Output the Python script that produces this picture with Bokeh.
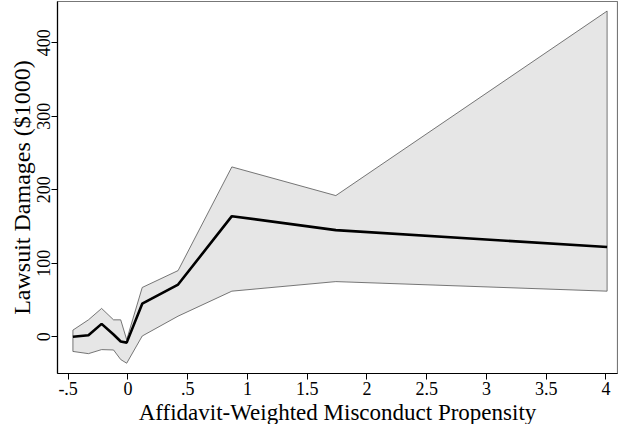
from bokeh.plotting import figure
from bokeh.models import Range1d, FixedTicker, Title
from bokeh.embed import file_html
from bokeh.resources import INLINE

# Data
propensity = [-0.46, -0.33, -0.22, -0.12, -0.06, -0.01, 0.12, 0.42, 0.87, 1.74, 4.01]
damages = [0, 2, 17.5, 3, -6.5, -8, 45, 71, 164, 145, 122]
upper_ci = [9, 23, 38.5, 23, 23, -4, 67, 90, 231, 192, 443]
lower_ci = [-20, -23, -17.5, -18, -31, -36, 1, 28, 62, 75, 62]

x_ticks = [-0.5, 0, 0.5, 1, 1.5, 2, 2.5, 3, 3.5, 4]
x_tick_labels = ["-.5", "0", ".5", "1", "1.5", "2", "2.5", "3", "3.5", "4"]
y_ticks = [0, 100, 200, 300, 400]
x_title = "Affidavit-Weighted Misconduct Propensity"
y_title = "Lawsuit Damages ($1000)"

FONT = "Liberation Serif"

p = figure(width=618, height=424, output_backend="svg", toolbar_location=None,
           x_range=Range1d(-0.589, 4.097), y_range=Range1d(-50, 456),
           min_border_left=57, min_border_right=1, min_border_top=1, min_border_bottom=0)

band_x = propensity + propensity[::-1]
band_y = upper_ci + lower_ci[::-1]
p.patch(band_x, band_y, fill_color="#e6e6e6", line_color="#555555", line_width=0.8)
p.line(propensity, damages, line_color="black", line_width=2.6)

p.xgrid.visible = False
p.ygrid.visible = False
p.outline_line_color = "#777777"
p.outline_line_width = 1.2
p.background_fill_color = "white"
p.border_fill_color = "white"

xa = p.xaxis[0]
xa.ticker = FixedTicker(ticks=x_ticks)
xa.major_label_overrides = {t: l for t, l in zip(x_ticks, x_tick_labels)}

ya = p.yaxis[0]
ya.ticker = FixedTicker(ticks=y_ticks)
ya.axis_label = y_title
ya.major_label_orientation = "parallel"

for ax in (xa, ya):
    ax.axis_line_color = "black"
    ax.axis_line_width = 1.2
    ax.major_tick_line_color = "black"
    ax.major_tick_out = 6
    ax.major_tick_in = 0
    ax.minor_tick_line_color = None
    ax.major_label_text_font = FONT
    ax.major_label_text_font_size = "18px"
    ax.major_label_text_color = "black"
    ax.axis_label_text_font = FONT
    ax.axis_label_text_font_style = "normal"
    ax.axis_label_text_color = "black"
ya.axis_label_text_font_size = "24px"
xa.major_label_standoff = 2
ya.major_label_standoff = 1
ya.axis_label_standoff = 0

p.add_layout(Title(text=x_title, align="center", standoff=0, offset=0,
                   text_font=FONT, text_font_size="23px", text_font_style="normal",
                   text_color="black"), "below")

open("out.html", "w").write(file_html(p, INLINE))
